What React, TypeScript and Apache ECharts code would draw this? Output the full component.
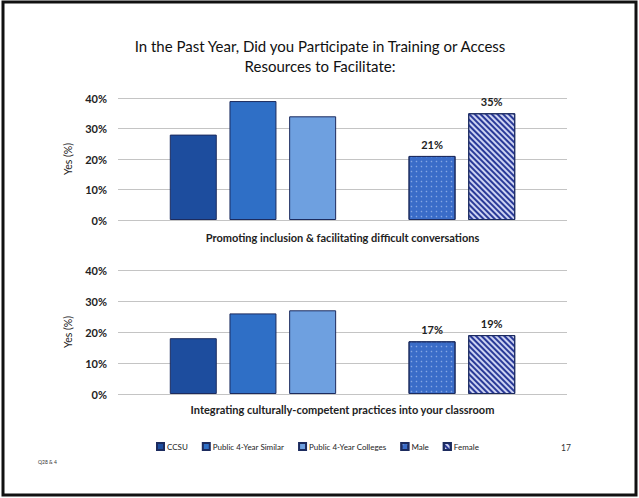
import React, { useEffect, useRef } from "react";
import * as echarts from "echarts";

const categories = [
  "Promoting inclusion & facilitating difficult conversations",
  "Integrating culturally-competent practices into your classroom",
];
const seriesNames = ["CCSU", "Public 4-Year Similar", "Public 4-Year Colleges", "Male", "Female"];
const ccsu = [28, 18];
const similar = [39, 26];
const colleges = [34, 27];
const male = [21, 17];
const female = [35, 19];
const yTicks = [0, 10, 20, 30, 40];

const FONT = "Lato, 'Liberation Sans', sans-serif";

export default function App() {
  const ref = useRef<HTMLDivElement>(null);
  useEffect(() => {
    if (!ref.current) return;
    const chart = echarts.init(ref.current, null, { renderer: "svg" });

    const grids = [
      { left: 118, right: 72, top: 98, height: 122 },
      { left: 118, right: 72, top: 270, height: 124 },
    ];

    const valuesBy = [ccsu, similar, colleges, male, female];
    const colors = ["#1d4d9e", "#2f6fc6", "#6ea0e0", "#3a6cc8", "#cdd3f2"];
    const decals: any[] = [
      null,
      null,
      null,
      { symbol: "circle", symbolSize: 0.5, color: "rgba(150,180,235,0.8)", dashArrayX: [2.5, 1.5], dashArrayY: [2.5, 1.5] },
      { symbol: "rect", symbolSize: 1, color: "#2a3a98", dashArrayX: [1, 0], dashArrayY: [1.8, 1.2], rotation: Math.PI / 4 },
    ];

    const series: any[] = [];
    [0, 1].forEach((p) => {
      const order = [0, 1, 2, -1, 3, 4];
      order.forEach((si) => {
        if (si === -1) {
          series.push({
            type: "bar",
            name: "blank" + p,
            xAxisIndex: p,
            yAxisIndex: p,
            data: [null],
            barWidth: 47,
            barGap: "27%",
          });
          return;
        }
        const item: any = {
          type: "bar",
          name: seriesNames[si],
          xAxisIndex: p,
          yAxisIndex: p,
          data: [valuesBy[si][p]],
          barWidth: 47,
          barGap: "27%",
          itemStyle: {
            color: colors[si],
            borderColor: "#1c2b5e",
            borderWidth: 1,
          },
        };
        if (decals[si]) item.itemStyle.decal = decals[si];
        if (si >= 3) {
          item.label = {
            show: true,
            position: "top",
            formatter: "{c}%",
            fontFamily: FONT,
            fontWeight: "bold",
            fontSize: 11,
            color: "#222",
            distance: 6,
          };
        }
        series.push(item);
      });
    });

    chart.setOption({
      animation: false,
      backgroundColor: "#ffffff",
      textStyle: { fontFamily: FONT },
      title: {
        text: "In the Past Year, Did you Participate in Training or Access\nResources to Facilitate:",
        left: 315,
        textAlign: "center",
        top: 31,
        textStyle: {
          fontFamily: FONT,
          fontSize: 15,
          fontWeight: "normal",
          color: "#111",
          lineHeight: 20,
        },
      },
      legend: {
        data: seriesNames,
        left: 156,
        top: 442,
        itemWidth: 7,
        itemHeight: 7,
        itemGap: 14,
        icon: "rect",
        padding: 0,
        textStyle: { fontFamily: FONT, fontSize: 8, color: "#222", padding: [0, 0, 0, -2] },
      },
      grid: grids,
      xAxis: [0, 1].map((p) => ({
        type: "category",
        gridIndex: p,
        data: [categories[p]],
        axisLine: { show: false },
        axisTick: { show: false },
        axisLabel: {
          fontFamily: FONT,
          fontWeight: "bold",
          fontSize: 11,
          color: "#222",
          margin: p === 0 ? 12 : 10,
        },
      })),
      yAxis: [0, 1].map((p) => ({
        type: "value",
        gridIndex: p,
        min: yTicks[0],
        max: yTicks[yTicks.length - 1],
        interval: 10,
        name: "Yes (%)",
        nameLocation: "middle",
        nameGap: 45,
        nameTextStyle: { fontFamily: FONT, fontSize: 10.5, color: "#222" },
        axisLine: { show: false },
        axisTick: { show: false },
        axisLabel: {
          formatter: "{value}%",
          fontFamily: FONT,
          fontWeight: "bold",
          fontSize: 11,
          color: "#222",
          margin: 11,
        },
        splitLine: { lineStyle: { color: "#c4c4c4", width: 1 } },
      })),
      series,
      graphic: [
        {
          type: "rect",
          shape: { x: 3, y: 2, width: 633, height: 493 },
          style: { fill: "none", stroke: "#111", lineWidth: 3 },
          silent: true,
        },
        {
          type: "text",
          left: 561,
          top: 443,
          style: { text: "17", fontFamily: FONT, fontSize: 8.5, fill: "#333" },
        },
        {
          type: "text",
          left: 38,
          top: 459,
          style: { text: "Q28 & 4", fontFamily: FONT, fontSize: 5, fill: "#333" },
        },
      ],
    });
    return () => chart.dispose();
  }, []);
  return (
    <div
      ref={ref}
      style={{ position: "fixed", left: 0, top: 0, width: 639, height: 498 }}
    />
  );
}
